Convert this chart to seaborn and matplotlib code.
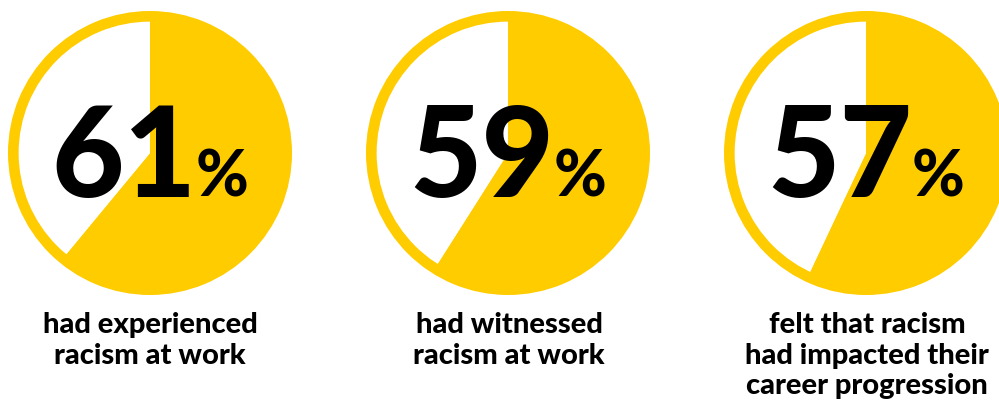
import matplotlib
matplotlib.use("Agg")
import matplotlib.pyplot as plt
import seaborn as sns

# ---- data ----
values = [61, 59, 57]
captions = [
    "had experienced\nracism at work",
    "had witnessed\nracism at work",
    "felt that racism\nhad impacted their\ncareer progression",
]

YELLOW = "#FFCC00"

sns.set_theme(style="white")
plt.rcParams["font.family"] = ["Lato", "DejaVu Sans"]

W, H = 999, 406
fig = plt.figure(figsize=(W / 100, H / 100), dpi=100)
fig.patch.set_facecolor("white")

centers_x = [150, 508, 866]
caption_x = [150, 509, 867]
center_y = 154
R = 142.0  # outer radius in px
S = 300.0  # axes size in px
lim = (S / 2) / R

renderer = fig.canvas.get_renderer()

for i, (v, cap) in enumerate(zip(values, captions)):
    cx = centers_x[i]
    ax = fig.add_axes([(cx - S / 2) / W, (H - center_y - S / 2) / H, S / W, S / H])
    ax.set_xlim(-lim, lim)
    ax.set_ylim(-lim, lim)
    ax.set_aspect("equal")
    ax.axis("off")
    # filled wedge
    ax.pie([v, 100 - v], colors=[YELLOW, "white"], startangle=90,
           counterclock=False, radius=0.932,
           wedgeprops=dict(linewidth=0))
    # outer ring
    ax.pie([100], colors=[YELLOW], radius=1.0,
           wedgeprops=dict(width=0.075, linewidth=0))
    ax.set_xlim(-lim, lim)
    ax.set_ylim(-lim, lim)

    # big number + percent sign
    base_y = H - 197
    t1 = fig.text(0, base_y / H, str(v), fontsize=90, fontweight="black",
                  color="black", ha="left", va="baseline")
    t2 = fig.text(0, base_y / H, "%", fontsize=46, fontweight="black",
                  color="black", ha="left", va="baseline")
    w1 = t1.get_window_extent(renderer).width
    w2 = t2.get_window_extent(renderer).width
    gap = 0
    total = w1 + gap + w2
    left = cx - total / 2
    t1.set_x(left / W)
    t2.set_x((left + w1 + gap) / W)

    # caption
    fig.text(caption_x[i] / W, (H - 312) / H, cap, fontsize=21, fontweight="black",
             color="black", ha="center", va="top", linespacing=1.22)

fig.savefig("out.png", dpi=100, facecolor="white")
